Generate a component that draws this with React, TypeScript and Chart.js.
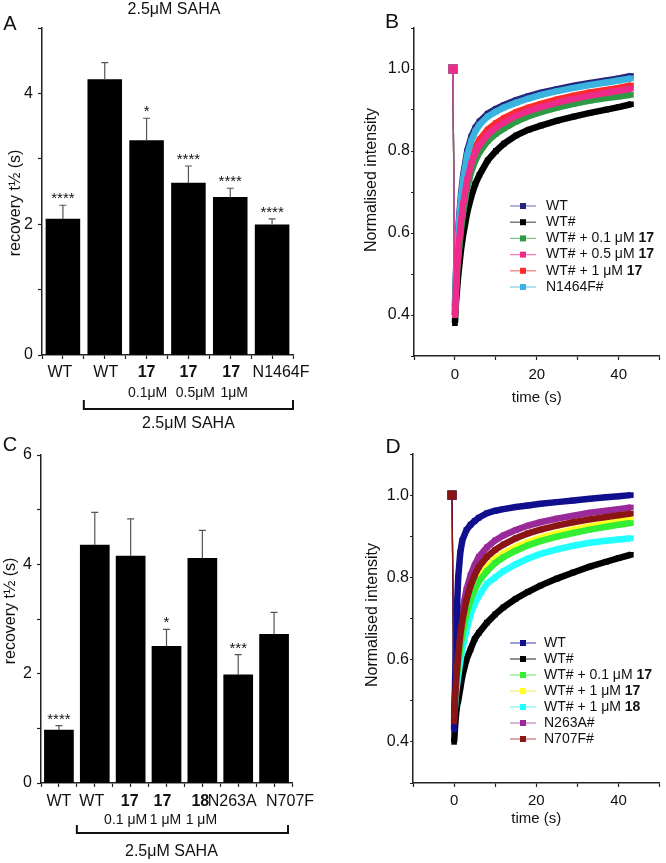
import React, { useEffect, useRef } from 'react';
import { Chart, registerables } from 'chart.js';
Chart.register(...registerables);

const FONT = '"Liberation Sans", Arial, Helvetica, sans-serif';

// ---------- Panel A (bars) ----------
const categoriesA = ['WT', 'WT', '17', '17', '17', 'N1464F'];
const boldA = [false, false, true, true, true, false];
const concentrationsA = ['', '', '0.1μM', '0.5μM', '1μM', ''];
const valuesA = [2.08, 4.21, 3.28, 2.63, 2.41, 1.99];
const errorsA = [0.21, 0.26, 0.34, 0.26, 0.14, 0.09];
const starsA = ['****', '', '*', '****', '****', '****'];
const yLabelsA = [0, 2, 4];

// ---------- Panel C (bars) ----------
const categoriesC = ['WT', 'WT', '17', '17', '18', 'N263A', 'N707F'];
const boldC = [false, false, true, true, true, false, false];
const concentrationsC = ['', '', '0.1 μM', '1 μM', '1 μM', '', ''];
const valuesC = [0.97, 4.35, 4.15, 2.5, 4.11, 1.98, 2.72];
const errorsC = [0.08, 0.6, 0.68, 0.31, 0.51, 0.37, 0.4];
const starsC = ['****', '', '', '*', '', '***', ''];
const yLabelsC = [0, 2, 4, 6];

// ---------- Panel B (recovery curves) ----------
const timeB = [-0.5, 0, 0.25, 0.5, 0.75, 1, 1.5, 2, 3, 4, 5, 6, 8, 10, 12, 15, 18, 21, 25, 29, 33, 37, 40, 43];
const bWT = [1.0, 0.42, 0.5, 0.56, 0.6, 0.635, 0.695, 0.74, 0.8, 0.835, 0.857, 0.872, 0.891, 0.903, 0.912, 0.924, 0.934, 0.942, 0.951, 0.959, 0.966, 0.972, 0.977, 0.983];
const bWTh = [1.0, 0.38, 0.43, 0.46, 0.49, 0.515, 0.56, 0.595, 0.65, 0.69, 0.72, 0.742, 0.777, 0.8, 0.818, 0.838, 0.852, 0.862, 0.874, 0.884, 0.893, 0.901, 0.907, 0.914];
const bWT01 = [1.0, 0.4, 0.45, 0.5, 0.53, 0.56, 0.61, 0.65, 0.71, 0.75, 0.777, 0.797, 0.824, 0.842, 0.855, 0.872, 0.885, 0.895, 0.906, 0.915, 0.923, 0.929, 0.933, 0.937];
const bWT05 = [1.0, 0.4, 0.46, 0.51, 0.55, 0.58, 0.63, 0.67, 0.73, 0.77, 0.797, 0.815, 0.84, 0.857, 0.87, 0.886, 0.898, 0.907, 0.918, 0.927, 0.935, 0.942, 0.947, 0.952];
const bWT1 = [1.0, 0.4, 0.47, 0.52, 0.56, 0.59, 0.64, 0.685, 0.745, 0.785, 0.81, 0.828, 0.852, 0.868, 0.88, 0.895, 0.906, 0.915, 0.926, 0.935, 0.943, 0.949, 0.954, 0.96];
const bN1464F = [1.0, 0.41, 0.49, 0.55, 0.59, 0.625, 0.685, 0.73, 0.79, 0.825, 0.848, 0.864, 0.884, 0.896, 0.906, 0.918, 0.928, 0.937, 0.946, 0.954, 0.961, 0.967, 0.972, 0.977];
const legendTextB = ['WT', 'WT#', 'WT# + 0.1 μM ', 'WT# + 0.5 μM ', 'WT# + 1 μM ', 'N1464F#'];
const legendBoldB = ['', '', '17', '17', '17', ''];

// ---------- Panel D (recovery curves) ----------
const timeD = [-0.5, 0, 0.25, 0.5, 0.75, 1, 1.5, 2, 3, 4, 5, 6, 8, 10, 12, 15, 18, 21, 25, 29, 33, 37, 40, 43];
const dWT = [1.0, 0.43, 0.55, 0.66, 0.74, 0.8, 0.86, 0.89, 0.915, 0.928, 0.937, 0.945, 0.956, 0.962, 0.966, 0.971, 0.975, 0.979, 0.983, 0.987, 0.991, 0.995, 0.997, 1.0];
const dWTh = [1.0, 0.4, 0.44, 0.47, 0.49, 0.5, 0.53, 0.56, 0.6, 0.625, 0.65, 0.665, 0.69, 0.71, 0.727, 0.748, 0.765, 0.78, 0.797, 0.812, 0.826, 0.838, 0.847, 0.855];
const dWT01 = [1.0, 0.47, 0.51, 0.54, 0.57, 0.59, 0.63, 0.66, 0.71, 0.745, 0.77, 0.79, 0.815, 0.835, 0.849, 0.865, 0.878, 0.888, 0.899, 0.908, 0.916, 0.923, 0.928, 0.932];
const dWT1 = [1.0, 0.47, 0.52, 0.55, 0.58, 0.6, 0.64, 0.67, 0.72, 0.755, 0.78, 0.8, 0.825, 0.845, 0.858, 0.874, 0.886, 0.896, 0.907, 0.916, 0.924, 0.931, 0.936, 0.94];
const dWT18 = [1.0, 0.46, 0.49, 0.52, 0.54, 0.56, 0.595, 0.625, 0.67, 0.71, 0.735, 0.755, 0.785, 0.8, 0.815, 0.832, 0.846, 0.857, 0.868, 0.877, 0.884, 0.889, 0.892, 0.895];
const dN263A = [1.0, 0.45, 0.52, 0.56, 0.6, 0.63, 0.68, 0.72, 0.77, 0.805, 0.83, 0.85, 0.873, 0.89, 0.902, 0.915, 0.926, 0.934, 0.943, 0.95, 0.957, 0.962, 0.966, 0.97];
const dN707F = [1.0, 0.45, 0.51, 0.55, 0.58, 0.61, 0.66, 0.695, 0.745, 0.78, 0.805, 0.825, 0.85, 0.867, 0.88, 0.895, 0.907, 0.916, 0.926, 0.934, 0.941, 0.947, 0.951, 0.955];
const legendTextD = ['WT', 'WT#', 'WT# + 0.1 μM ', 'WT# + 1 μM ', 'WT# + 1 μM ', 'N263A#', 'N707F#'];
const legendBoldD = ['', '', '17', '17', '18', '', ''];

const axisBorder = { display: true, color: '#222', width: 1.5 };
const axisGrid = (len: number) => ({
  display: true, drawOnChartArea: false, drawTicks: true, tickLength: len,
  tickColor: '#222', tickWidth: 1.2, offset: false,
});

function drawRotated(ctx: any, text: string, x: number, y: number, size: number) {
  ctx.save();
  ctx.translate(x, y);
  ctx.rotate(-Math.PI / 2);
  ctx.font = `${size}px ${FONT}`;
  ctx.textAlign = 'center';
  ctx.textBaseline = 'middle';
  ctx.fillStyle = '#111';
  ctx.fillText(text, 0, 0);
  ctx.restore();
}

function makeBarConfig(o: any) {
  const n = o.cats.length;
  const extras = {
    id: 'barExtras',
    afterDatasetsDraw(chart: any) {
      const { ctx } = chart;
      const x = chart.scales.x, y = chart.scales.y;
      ctx.save();
      o.values.forEach((v: number, i: number) => {
        const px = x.getPixelForValue(i);
        const y0 = y.getPixelForValue(v);
        const y1 = y.getPixelForValue(v + o.errors[i]);
        ctx.strokeStyle = '#555';
        ctx.lineWidth = 1.2;
        ctx.beginPath();
        ctx.moveTo(px, y0); ctx.lineTo(px, y1);
        ctx.moveTo(px - 3.5, y1); ctx.lineTo(px + 3.5, y1);
        ctx.stroke();
        if (o.stars[i]) {
          ctx.fillStyle = '#111';
          ctx.font = `15px ${FONT}`;
          ctx.textAlign = 'center';
          ctx.textBaseline = 'alphabetic';
          ctx.fillText(o.stars[i], px, y1 - 2);
        }
      });
      ctx.restore();
    },
    afterDraw(chart: any) {
      const { ctx, chartArea } = chart;
      const x = chart.scales.x;
      const b = chartArea.bottom;
      ctx.save();
      ctx.fillStyle = '#111';
      ctx.textAlign = 'center';
      ctx.textBaseline = 'middle';
      o.cats.forEach((c: string, i: number) => {
        const px = x.getPixelForValue(i);
        ctx.font = `${o.bold[i] ? 'bold ' : ''}16px ${FONT}`;
        ctx.fillText(c, px + o.labelDx[i], b + o.rows[0]);
        if (o.conc[i]) {
          ctx.font = `14px ${FONT}`;
          ctx.fillText(o.conc[i], px + o.concDx[i], b + o.rows[1]);
        }
      });
      const xl = (x.getPixelForValue(0) + x.getPixelForValue(1)) / 2;
      const xr = chartArea.right - o.bracketInset;
      ctx.strokeStyle = '#111';
      ctx.lineWidth = 2;
      ctx.beginPath();
      ctx.moveTo(xl, b + o.rows[2]);
      ctx.lineTo(xl, b + o.rows[3]);
      ctx.lineTo(xr, b + o.rows[3]);
      ctx.lineTo(xr, b + o.rows[2]);
      ctx.stroke();
      ctx.font = `16px ${FONT}`;
      ctx.fillText('2.5μM SAHA', (xl + xr) / 2 + o.bracketLabelDx, b + o.rows[4]);
      if (o.title) {
        ctx.fillText(o.title, o.titlePos[0], o.titlePos[1]);
      }
      ctx.font = `20px ${FONT}`;
      ctx.fillText(o.letter, o.letterPos[0], o.letterPos[1]);
      ctx.restore();
      drawRotated(ctx, 'recovery t½ (s)', o.yTitle[0], o.yTitle[1], 16);
    },
  };
  return {
    type: 'bar',
    data: {
      datasets: [{
        data: o.values.map((v: number, i: number) => ({ x: i, y: v })),
        backgroundColor: '#000',
        borderWidth: 0,
        barPercentage: 0.9,
        categoryPercentage: 0.9,
        barThickness: 'flex',
      }],
    },
    options: {
      responsive: false,
      animation: false,
      events: [],
      layout: { padding: { left: 0, top: o.padTop, right: o.padRight, bottom: 0 } },
      plugins: { legend: { display: false }, tooltip: { enabled: false } },
      scales: {
        x: {
          type: 'linear', min: -0.5, max: n - 0.5, offset: false,
          border: axisBorder, grid: axisGrid(4),
          ticks: { stepSize: 0.5, autoSkip: false, maxRotation: 0, maxTicksLimit: 100, callback: () => '' },
          afterFit: (s: any) => { s.height = o.xH; },
        },
        y: {
          type: 'linear', min: 0, max: o.yMax,
          border: axisBorder, grid: axisGrid(4),
          ticks: {
            stepSize: 1, maxTicksLimit: 100, padding: 5, color: '#111',
            font: { family: FONT, size: 16 },
            callback: (v: number) => (o.yLabels.includes(v) ? String(v) : ''),
          },
          afterFit: (s: any) => { s.width = o.yW; },
        },
      },
    },
    plugins: [extras],
  };
}

function makeLineConfig(o: any) {
  const extras = {
    id: 'lineExtras',
    afterDraw(chart: any) {
      const { ctx, chartArea } = chart;
      ctx.save();
      ctx.fillStyle = '#111';
      ctx.textAlign = 'center';
      ctx.textBaseline = 'middle';
      ctx.font = `15px ${FONT}`;
      ctx.fillText('time (s)', (chartArea.left + chartArea.right) / 2, chartArea.bottom + o.xTitleDy);
      ctx.font = `21px ${FONT}`;
      ctx.fillText(o.letter, o.letterPos[0], o.letterPos[1]);
      // legend
      o.legend.forEach((it: any, k: number) => {
        const y = o.legendY + k * o.legendStep;
        ctx.strokeStyle = it.line;
        ctx.lineWidth = 1.3;
        ctx.beginPath();
        ctx.moveTo(o.legendX, y);
        ctx.lineTo(o.legendX + 26, y);
        ctx.stroke();
        ctx.fillStyle = it.color;
        ctx.fillRect(o.legendX + 10, y - 3, 6, 6);
        ctx.fillStyle = '#111';
        ctx.textAlign = 'left';
        let tx = o.legendTextX;
        ctx.font = `14px ${FONT}`;
        ctx.fillText(it.text, tx, y);
        tx += ctx.measureText(it.text).width;
        if (it.bold) {
          ctx.font = `bold 14px ${FONT}`;
          ctx.fillText(it.bold, tx, y);
        }
      });
      ctx.restore();
      drawRotated(ctx, 'Normalised intensity', o.yTitle[0], o.yTitle[1], 16);
    },
  };
  return {
    type: 'line',
    data: {
      datasets: o.series.map((s: any) => ({
        data: o.time.map((t: number, i: number) => ({ x: t, y: s.values[i] })),
        borderColor: s.color,
        backgroundColor: s.color,
        pointBackgroundColor: s.color,
        pointBorderWidth: 0,
        pointStyle: 'rect',
        pointRadius: (c: any) => (c.dataIndex === 0 ? 6.4 : 4),
        borderWidth: 6.5,
        segment: { borderWidth: (c: any) => (c.p0DataIndex === 0 ? 1.2 : 6.5) },
        tension: 0,
        order: s.order,
        clip: false,
      })),
    },
    options: {
      responsive: false,
      animation: false,
      events: [],
      layout: { padding: { left: 0, top: o.padTop, right: 1, bottom: 0 } },
      plugins: { legend: { display: false }, tooltip: { enabled: false } },
      scales: {
        x: {
          type: 'linear', min: -10, max: 50,
          border: axisBorder, grid: axisGrid(4),
          ticks: {
            stepSize: 10, autoSkip: false, maxRotation: 0, maxTicksLimit: 100, padding: o.xTickPad,
            color: '#111', font: { family: FONT, size: 15 },
            callback: (v: number) => (v % 20 === 0 ? String(v) : ''),
          },
          afterFit: (s: any) => { s.height = o.xH; },
        },
        y: {
          type: 'linear', min: 0.3, max: 1.1,
          border: axisBorder, grid: axisGrid(3),
          ticks: {
            stepSize: 0.1, maxTicksLimit: 100, padding: 1, color: '#111',
            font: { family: FONT, size: 16 },
            callback: (v: number) => {
              const k = Math.round(v * 10);
              return k % 2 === 0 ? (k / 10).toFixed(1) : '';
            },
          },
          afterFit: (s: any) => { s.width = o.yW; },
        },
      },
    },
    plugins: [extras],
  };
}

function Panel(props: { left: number; top: number; width: number; height: number; make: () => any }) {
  const ref = useRef<HTMLCanvasElement>(null);
  useEffect(() => {
    const chart = new Chart(ref.current as HTMLCanvasElement, props.make());
    return () => chart.destroy();
  }, []);
  return (
    <canvas
      ref={ref}
      width={props.width}
      height={props.height}
      style={{ position: 'absolute', left: props.left, top: props.top, width: props.width, height: props.height }}
    />
  );
}

const configA = () => makeBarConfig({
  cats: categoriesA, bold: boldA, conc: concentrationsA, values: valuesA, errors: errorsA, stars: starsA,
  yLabels: yLabelsA, yMax: 5, padTop: 28, padRight: 40, yW: 42, xH: 75,
  labelDx: [-3, 1, 0, 0, 1, 9], concDx: [0, 0, 1, 7, 4, 0],
  rows: [18, 38, 45, 54, 69], bracketInset: 0, bracketLabelDx: 0,
  title: '2.5μM SAHA', titlePos: [174, 10], letter: 'A', letterPos: [10, 24], yTitle: [16, 203],
});

const configC = () => makeBarConfig({
  cats: categoriesC, bold: boldC, conc: concentrationsC, values: valuesC, errors: errorsC, stars: starsC,
  yLabels: yLabelsC, yMax: 6, padTop: 25, padRight: 41, yW: 41, xH: 80,
  labelDx: [0, -3, -1, -4, -2, -6, 16], concDx: [0, 0, -5, -1, -1, 0, 0],
  rows: [19, 37, 42, 50, 69], bracketInset: 4, bracketLabelDx: -11,
  title: '', titlePos: [0, 0], letter: 'C', letterPos: [10, 15], yTitle: [11, 181],
});

const configB = () => makeLineConfig({
  time: timeB,
  series: [
    { values: bWT05, color: '#ee2a8a', order: 0 },
    { values: bN1464F, color: '#3ab4de', order: 1 },
    { values: bWT1, color: '#ff2a2a', order: 2 },
    { values: bWT01, color: '#2f9a45', order: 3 },
    { values: bWT, color: '#26267e', order: 4 },
    { values: bWTh, color: '#000000', order: 5 },
  ],
  legend: [
    { text: legendTextB[0], bold: legendBoldB[0], color: '#26267e', line: '#8a8acc' },
    { text: legendTextB[1], bold: legendBoldB[1], color: '#000000', line: '#666666' },
    { text: legendTextB[2], bold: legendBoldB[2], color: '#2f9a45', line: '#7cc48c' },
    { text: legendTextB[3], bold: legendBoldB[3], color: '#ee2a8a', line: '#f27db8' },
    { text: legendTextB[4], bold: legendBoldB[4], color: '#ff2a2a', line: '#f68080' },
    { text: legendTextB[5], bold: legendBoldB[5], color: '#3ab4de', line: '#86d0ea' },
  ],
  legendX: 177, legendTextX: 213, legendY: 206, legendStep: 16.2,
  padTop: 28, yW: 81, xH: 74, xTickPad: 6, xTitleDy: 42,
  letter: 'B', letterPos: [59, 22], yTitle: [39, 180],
});

const configD = () => makeLineConfig({
  time: timeD,
  series: [
    { values: dN707F, color: '#8b1414', order: 0 },
    { values: dWT, color: '#10108e', order: 1 },
    { values: dN263A, color: '#9a2a9a', order: 2 },
    { values: dWT01, color: '#33ee33', order: 3 },
    { values: dWT1, color: '#ffff22', order: 4 },
    { values: dWT18, color: '#22ffff', order: 5 },
    { values: dWTh, color: '#000000', order: 6 },
  ],
  legend: [
    { text: legendTextD[0], bold: legendBoldD[0], color: '#10108e', line: '#6a6ac8' },
    { text: legendTextD[1], bold: legendBoldD[1], color: '#000000', line: '#555555' },
    { text: legendTextD[2], bold: legendBoldD[2], color: '#33ee33', line: '#8af08a' },
    { text: legendTextD[3], bold: legendBoldD[3], color: '#ffff22', line: '#f4f07a' },
    { text: legendTextD[4], bold: legendBoldD[4], color: '#22ffff', line: '#8af4f4' },
    { text: legendTextD[5], bold: legendBoldD[5], color: '#9a2a9a', line: '#c488c4' },
    { text: legendTextD[6], bold: legendBoldD[6], color: '#8b1414', line: '#c47a7a' },
  ],
  legendX: 177, legendTextX: 211, legendY: 213, legendStep: 16,
  padTop: 24, yW: 80, xH: 80, xTickPad: 5, xTitleDy: 36,
  letter: 'D', letterPos: [60, 17], yTitle: [40, 185],
});

export default function App() {
  return (
    <div style={{ position: 'absolute', left: 0, top: 0, width: 666, height: 863, background: '#fff', overflow: 'hidden' }}>
      <Panel left={0} top={0} width={333} height={430} make={configA} />
      <Panel left={333} top={0} width={333} height={430} make={configB} />
      <Panel left={0} top={430} width={333} height={433} make={configC} />
      <Panel left={333} top={430} width={333} height={433} make={configD} />
    </div>
  );
}
